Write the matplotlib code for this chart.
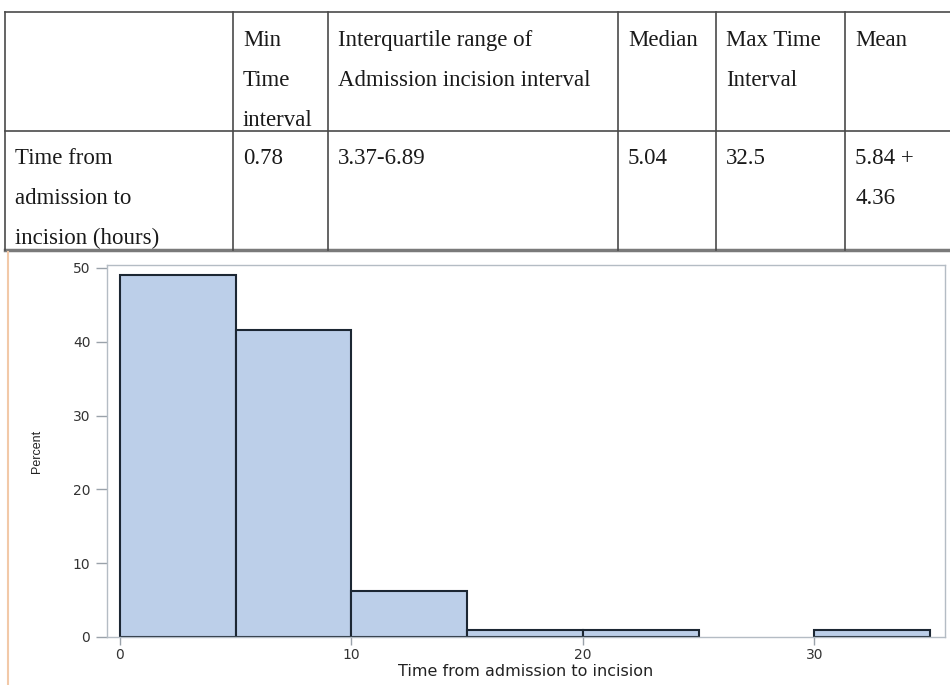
import matplotlib.pyplot as plt

# histogram data (percent per 5-hour bin)
bin_left = [0, 5, 10, 15, 20, 30]
bin_width = 5
percent = [49.0, 41.6, 6.2, 1.0, 1.0, 1.0]
x_ticks = [0, 10, 20, 30]
y_ticks = [0, 10, 20, 30, 40, 50]

# summary table
col_edges = [5, 233, 328, 618, 716, 845, 960]
header = [[], ["Min", "Time", "interval"],
          ["Interquartile range of", "Admission incision interval"],
          ["Median"], ["Max Time", "Interval"], ["Mean"]]
row = [["Time from", "admission to", "incision (hours)"], ["0.78"], ["3.37-6.89"],
       ["5.04"], ["32.5"], ["5.84 +", "4.36"]]

fig = plt.figure(figsize=(9.5, 6.85), dpi=100)

# overlay in pixel coordinates for the table
ov = fig.add_axes([0, 0, 1, 1])
ov.set_xlim(0, 950)
ov.set_ylim(685, 0)
ov.axis('off')

line_col = '#4a4a4a'
ov.plot([5, 950], [12, 12], color=line_col, lw=1.2)
ov.plot([5, 950], [131, 131], color=line_col, lw=1.2)
ov.plot([5, 950], [250, 250], color='#7a7a7a', lw=2.5)
for xe in col_edges[:-1]:
    ov.plot([xe, xe], [12, 250], color=line_col, lw=1.2)
# orange page margin line
ov.plot([8, 8], [252, 685], color='#f2c9a8', lw=1.5)

serif = 'Liberation Serif'
for i, lines in enumerate(header):
    for j, t in enumerate(lines):
        ov.text(col_edges[i] + 10, 40 + 40 * j, t, family=serif, fontsize=16.5,
                va='center', ha='left', color='#1a1a1a')
for i, lines in enumerate(row):
    for j, t in enumerate(lines):
        ov.text(col_edges[i] + 10, 158 + 40 * j, t, family=serif, fontsize=16.5,
                va='center', ha='left', color='#1a1a1a')

# histogram
ax = fig.add_axes([107 / 950, 1 - 637 / 685, (945 - 107) / 950, (637 - 265) / 685])
ax.bar(bin_left, percent, width=bin_width, align='edge', color='#bccfe9',
       edgecolor='#1c2733', linewidth=1.5, zorder=2)
ax.set_xlim(-0.56, 35.64)
ax.set_ylim(0, 50.4)
ax.set_xticks(x_ticks)
ax.set_yticks(y_ticks)
for s in ax.spines.values():
    s.set_color('#b4bcc4')
    s.set_linewidth(1)
ax.tick_params(colors='#9aa2aa', labelcolor='#333333', length=8, width=1,
               labelsize=10, direction='out', pad=4)
ax.tick_params(axis='x', length=6, pad=2)
ax.set_xlabel('Time from admission to incision', fontsize=11.5, color='#222222')
ax.xaxis.set_label_coords(0.5, -0.094)
ax.xaxis.label.set_va('center')
ax.set_ylabel('Percent', family='Liberation Sans', fontsize=9, color='#222222')
ax.yaxis.set_label_coords(-0.084, 0.5)
ax.yaxis.label.set_va('center')

fig.savefig('out.png', dpi=100)
